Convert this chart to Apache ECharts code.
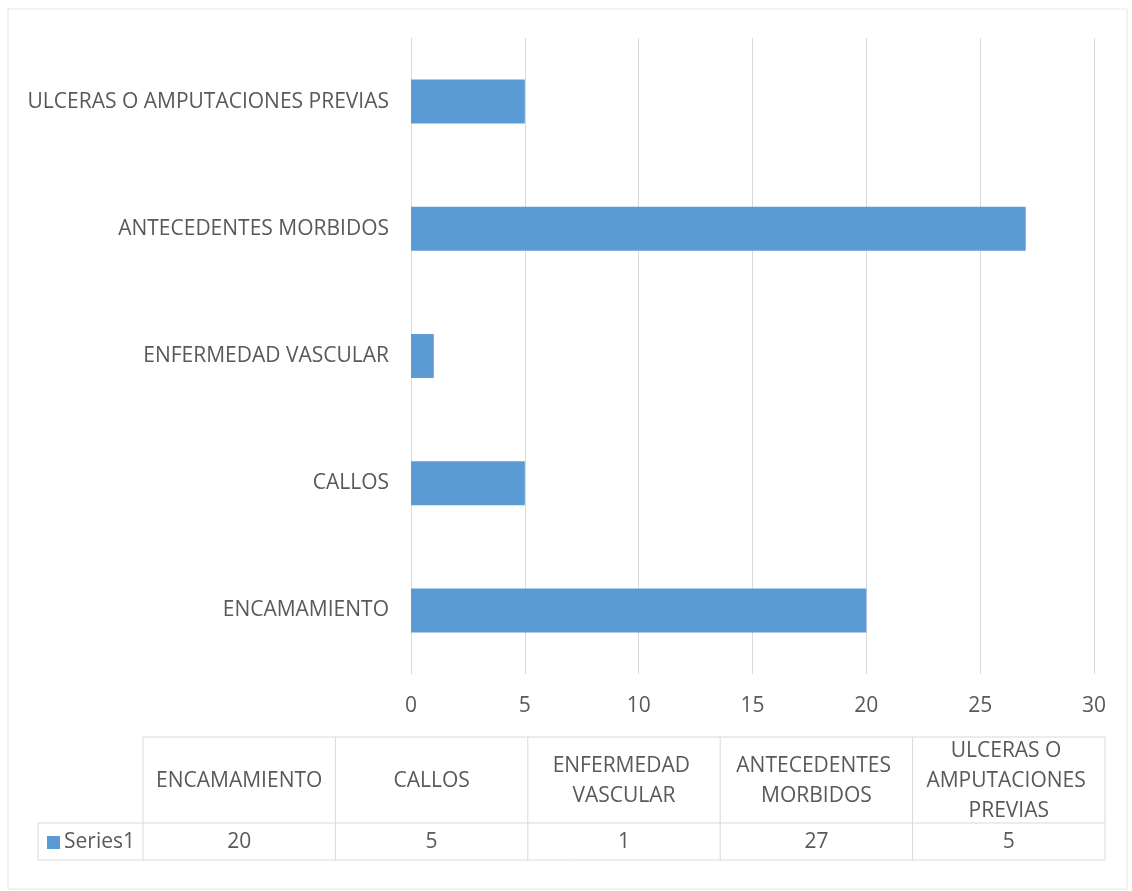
<!DOCTYPE html>
<html><head><meta charset="utf-8">
<script src="https://cdn.jsdelivr.net/npm/echarts@6/dist/echarts.min.js"></script>
<style>html,body{margin:0;padding:0;background:#fff}#c{width:1132px;height:891px}</style>
</head><body><div id="c"></div>
<script>
const categories = ["ENCAMAMIENTO", "CALLOS", "ENFERMEDAD VASCULAR", "ANTECEDENTES MORBIDOS", "ULCERAS O AMPUTACIONES PREVIAS"];
const seriesName = "Series1";
const values = [20, 5, 1, 27, 5];
const xTicks = [0, 5, 10, 15, 20, 25, 30];

const FONT = "'Open Sans', sans-serif";
const FS = 21;
const TXT = "#595959";
const LINE = "#d9d9d9";

const chart = echarts.init(document.getElementById('c'));

// data table layout
const tLeft = 38, tFirstW = 105, tRight = 1105, tTop = 737, tMid = 823, tBot = 860;
const colW = (tRight - (tLeft + tFirstW)) / categories.length;
const graphics = [];
graphics.push({type:'rect', shape:{x:8,y:9,width:1119,height:880}, style:{fill:'none', stroke:'#e6e6e6', lineWidth:1}, silent:true});
graphics.push({type:'line', shape:{x1:tLeft+tFirstW,y1:tTop,x2:tRight,y2:tTop}, style:{stroke:LINE,lineWidth:1}});
graphics.push({type:'line', shape:{x1:tLeft,y1:tMid,x2:tRight,y2:tMid}, style:{stroke:LINE,lineWidth:1}});
graphics.push({type:'line', shape:{x1:tLeft,y1:tBot,x2:tRight,y2:tBot}, style:{stroke:LINE,lineWidth:1}});
graphics.push({type:'line', shape:{x1:tLeft,y1:tMid,x2:tLeft,y2:tBot}, style:{stroke:LINE,lineWidth:1}});
for (let i = 0; i <= categories.length; i++) {
  const x = tLeft + tFirstW + i*colW;
  graphics.push({type:'line', shape:{x1:x,y1:tTop,x2:x,y2:tBot}, style:{stroke:LINE,lineWidth:1}});
}
categories.forEach((c, i) => {
  const cx = tLeft + tFirstW + (i+0.5)*colW;
  graphics.push({type:'text', x:cx, y:(tTop+tMid)/2 + 1, style:{text:c, width:184, overflow:'break', font:FS+'px '+FONT, fill:TXT, align:'center', verticalAlign:'middle', lineHeight:30}});
  graphics.push({type:'text', x:cx, y:(tMid+tBot)/2+1, style:{text:String(values[i]), font:FS+'px '+FONT, fill:TXT, align:'center', verticalAlign:'middle'}});
});
graphics.push({type:'rect', shape:{x:47,y:836,width:13,height:13}, style:{fill:'#5B9BD5'}});
graphics.push({type:'text', x:64, y:(tMid+tBot)/2+1, style:{text:seriesName, font:FS+'px '+FONT, fill:TXT, align:'left', verticalAlign:'middle'}});

chart.setOption({
  animation:false,
  grid:{left:411, right:38, top:38, bottom:217},
  xAxis:{type:'value', min:xTicks[0], max:xTicks[xTicks.length-1], interval:xTicks[1]-xTicks[0],
    axisLine:{show:false}, axisTick:{show:false},
    splitLine:{lineStyle:{color:LINE, width:1}},
    axisLabel:{color:TXT, fontSize:FS, fontFamily:FONT, margin:22}},
  yAxis:{type:'category', data:categories,
    axisLine:{show:true, lineStyle:{color:LINE}}, axisTick:{show:false},
    axisLabel:{color:TXT, fontSize:FS, fontFamily:FONT, margin:22}},
  series:[{name:seriesName, type:'bar', data:values, barWidth:44, itemStyle:{color:'#5B9BD5'}}],
  graphic:graphics
});
</script></body></html>
